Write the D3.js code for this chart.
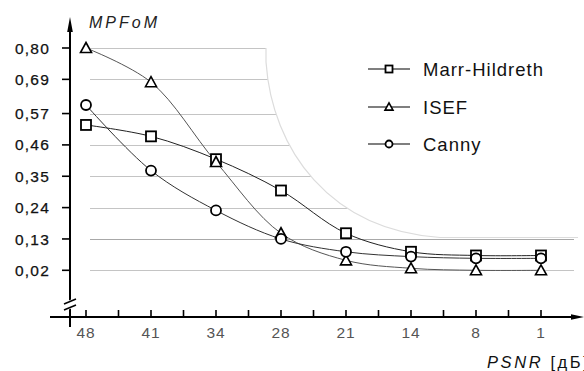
<!DOCTYPE html>
<html lang="ru">
<head>
<meta charset="utf-8">
<title>MPFoM vs PSNR</title>
<script src="https://cdn.jsdelivr.net/npm/d3@7"></script>
<style>
  body { margin: 0; background: #fff; overflow: hidden; }
  svg { display: block; font-family: "Liberation Sans", Arial, sans-serif; }
</style>
</head>
<body>
<svg id="chart" width="584" height="371"></svg>
<script>
// data
var categories = ["48", "41", "34", "28", "21", "14", "8", "1"];
var yTicks = [0.02, 0.13, 0.24, 0.35, 0.46, 0.57, 0.69, 0.80];
var marrHildreth = [0.53, 0.49, 0.41, 0.30, 0.15, 0.085, 0.072, 0.072];
var isef = [0.80, 0.68, 0.40, 0.15, 0.055, 0.027, 0.02, 0.02];
var canny = [0.60, 0.37, 0.23, 0.13, 0.085, 0.068, 0.062, 0.062];
var seriesNames = ["Marr-Hildreth", "ISEF", "Canny"];
var seriesShapes = ["square", "triangle", "circle"];

var svg = d3.select("#chart");

var x = d3.scalePoint().domain(categories).range([86, 541]);
var y = d3.scaleLinear().domain([0.02, 0.80]).range([270.3, 48]);
var axisX = 70, axisY = 317;

// grid lines, cut on the right by a light curve
var curvePath = "M266,48 L266,62 C272,150 330,230 440,237.5 L578,237.5";
svg.append("clipPath").attr("id", "gridClip")
  .append("path")
  .attr("d", "M88,30 L266,30 L266,62 C272,150 330,230 440,237.5 L578,237.5 L578,290 L88,290 Z");

var grid = svg.append("g").attr("clip-path", "url(#gridClip)");
grid.selectAll("line").data(yTicks).enter().append("line")
  .attr("x1", 90).attr("x2", 574)
  .attr("y1", d => Math.round(y(d)) + 0.5).attr("y2", d => Math.round(y(d)) + 0.5)
  .attr("stroke", d => d === 0.13 ? "#a8a8a8" : "#c4c4c4")
  .attr("stroke-width", 1);
svg.append("path").attr("d", curvePath)
  .attr("fill", "none").attr("stroke", "#dcdcdc").attr("stroke-width", 1.2);

// y axis
var fmt = d3.format(".2f");
var yAxis = svg.append("g");
yAxis.append("line").attr("x1", axisX).attr("x2", axisX).attr("y1", 26).attr("y2", 327)
  .attr("stroke", "#000").attr("stroke-width", 2);
yAxis.append("path").attr("d", "M70,17 L72.8,32 L67.2,32 Z").attr("fill", "#000");
yAxis.selectAll(".tk").data(yTicks).enter().append("line")
  .attr("x1", 62).attr("x2", axisX)
  .attr("y1", d => y(d)).attr("y2", d => y(d))
  .attr("stroke", "#000").attr("stroke-width", 1.6);
yAxis.selectAll("text").data(yTicks).enter().append("text")
  .attr("x", 50).attr("y", d => y(d)).attr("dy", "0.36em")
  .attr("text-anchor", "end")
  .style("font-size", "15.5px").style("letter-spacing", "1.2px")
  .attr("fill", "#111").attr("stroke", "#111").attr("stroke-width", 0.25)
  .text(d => fmt(d).replace(".", ","));

// axis break
yAxis.append("path").attr("d", "M63,303 L77,297 L77,306 L63,312 Z").attr("fill", "#fff");
yAxis.append("line").attr("x1", 64).attr("y1", 304).attr("x2", 76).attr("y2", 299)
  .attr("stroke", "#000").attr("stroke-width", 1.5);
yAxis.append("line").attr("x1", 64).attr("y1", 310).attr("x2", 76).attr("y2", 305)
  .attr("stroke", "#000").attr("stroke-width", 1.5);

// x axis
var xAxis = svg.append("g");
xAxis.append("line").attr("x1", 50).attr("x2", 576).attr("y1", axisY).attr("y2", axisY)
  .attr("stroke", "#000").attr("stroke-width", 2);
xAxis.append("path").attr("d", "M584,317 L571,314.2 L571,319.8 Z").attr("fill", "#000");
var tickPos = [];
categories.forEach(function(c, i) {
  tickPos.push(x(c));
  if (i < categories.length - 1) tickPos.push((x(c) + x(categories[i + 1])) / 2);
});
xAxis.selectAll(".tk").data(tickPos).enter().append("line")
  .attr("x1", d => d).attr("x2", d => d).attr("y1", 310).attr("y2", axisY)
  .attr("stroke", "#000").attr("stroke-width", 1.6);
xAxis.selectAll("text").data(categories).enter().append("text")
  .attr("x", d => x(d)).attr("y", 338)
  .attr("text-anchor", "middle")
  .style("font-size", "15.5px").style("letter-spacing", "1px")
  .attr("fill", "#555")
  .text(d => d);

// axis titles
svg.append("text").attr("x", 89).attr("y", 28)
  .style("font-size", "16px").style("font-style", "italic").style("letter-spacing", "3px")
  .attr("fill", "#222").text("MPFoM");
var xt = svg.append("text").attr("x", 487).attr("y", 368)
  .style("font-size", "16.5px").style("letter-spacing", "2.6px").attr("fill", "#111");
xt.append("tspan").style("font-style", "italic").text("PSNR");
xt.append("tspan").text(" [дБ]");

// series
var seriesData = [marrHildreth, isef, canny];
var line = d3.line().x((d, i) => x(categories[i])).y(d => y(d)).curve(d3.curveCatmullRom.alpha(0.5));
var lineColors = ["#222", "#555", "#333"];

function marker(g, shape, cx, cy, s) {
  if (shape === "square") {
    g.append("rect").attr("x", cx - s / 2).attr("y", cy - s / 2).attr("width", s).attr("height", s)
      .attr("fill", "#fff").attr("stroke", "#000").attr("stroke-width", 1.8);
  } else if (shape === "circle") {
    g.append("circle").attr("cx", cx).attr("cy", cy).attr("r", s / 2)
      .attr("fill", "#fff").attr("stroke", "#000").attr("stroke-width", 1.8);
  } else {
    var h = s * 0.9;
    g.append("path")
      .attr("d", "M" + cx + "," + (cy - h / 2 - 1) + " L" + (cx + s / 2 + 0.5) + "," + (cy + h / 2) + " L" + (cx - s / 2 - 0.5) + "," + (cy + h / 2) + " Z")
      .attr("fill", "#fff").attr("stroke", "#000").attr("stroke-width", 1.6);
  }
}

var plot = svg.append("g");
seriesData.forEach(function(vals, k) {
  plot.append("path").datum(vals).attr("d", line)
    .attr("fill", "none").attr("stroke", lineColors[k]).attr("stroke-width", 1);
});
seriesData.forEach(function(vals, k) {
  var g = plot.append("g");
  vals.forEach(function(v, i) { marker(g, seriesShapes[k], x(categories[i]), y(v), 10); });
});

// legend
var legendY = [69, 107, 144];
var legend = svg.append("g");
seriesNames.forEach(function(name, k) {
  legend.append("line").attr("x1", 368).attr("x2", 410).attr("y1", legendY[k]).attr("y2", legendY[k])
    .attr("stroke", "#000").attr("stroke-width", 1.2);
  marker(legend, seriesShapes[k], 389, legendY[k], 7);
  legend.append("text").attr("x", 423).attr("y", legendY[k]).attr("dy", "0.36em")
    .style("font-size", "18.5px").style("letter-spacing", "1px")
    .attr("fill", "#111").text(name);
});
</script>
</body>
</html>
